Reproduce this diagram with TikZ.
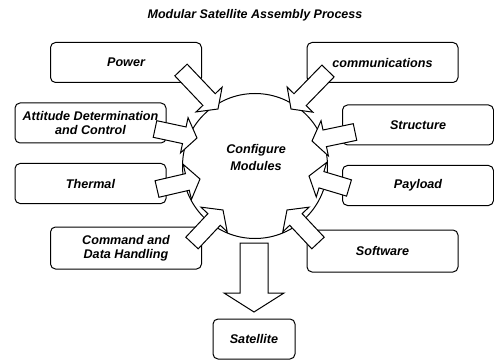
\documentclass[tikz,border=0pt]{standalone}
\usepackage{fontspec}
\setmainfont{Liberation Sans}
\usetikzlibrary{calc}

\tikzset{
  modbox/.style={draw,line width=1pt,rounded corners=5pt,minimum width=151pt,
    minimum height=40pt,align=center,font=\fontsize{12.6}{14.5}\selectfont\bfseries\itshape},
  blockarrow/.style n args={3}{draw,fill=white,line width=1pt,line join=miter,
    to path={let \p1=($(\tikztotarget)-(\tikztostart)$),
      \n1={atan2(\y1,\x1)}, \n2={veclen(\x1,\y1)} in
      ($(\tikztostart)+(\n1+90:#1)$)
      -- ($(\tikztostart)+(\n1:{\n2-#3})+(\n1+90:#1)$)
      -- ($(\tikztostart)+(\n1:{\n2-#3})+(\n1+90:#2)$)
      -- (\tikztotarget)
      -- ($(\tikztostart)+(\n1:{\n2-#3})+(\n1-90:#2)$)
      -- ($(\tikztostart)+(\n1:{\n2-#3})+(\n1-90:#1)$)
      -- ($(\tikztostart)+(\n1-90:#1)$) -- cycle}},
  sidearrow/.style={blockarrow={8.5pt}{18pt}{13pt}},
}

\begin{document}
\begin{tikzpicture}[x=1pt,y=-1pt]
  \useasboundingbox (0,0) rectangle (494,363);

  \node[font=\fontsize{12.5}{14}\selectfont\bfseries\itshape] (title) at (255,15)
    {Modular Satellite Assembly Process};

  % hub
  \node[draw,circle,line width=1pt,minimum size=145pt] (cfg) at (255,166) {};
  \node[align=center,font=\fontsize{12.6}{17}\selectfont\bfseries\itshape] (cfgtxt)
    at (256,157) {Configure\\Modules};

  % modules
  \node[modbox] (pow) at (126,62.5) {Power};
  \node[modbox] (com) at (382.5,62.5) {communications};
  \node[modbox] (att) at (90.5,123) {Attitude Determination\\and Control};
  \node[modbox] (thm) at (90.5,183.5) {Thermal};
  \node[modbox] (str) at (418,125) {Structure};
  \node[modbox] (pay) at (418,185.5) {Payload};
  \node[modbox,minimum height=42pt] (cmd) at (126,248) {Command and\\Data Handling};
  \node[modbox,minimum height=42pt] (sw) at (382.5,251) {Software};
  \node[modbox,minimum width=82pt] (sat) at (254,339) {Satellite};

  % arrow ends
  \coordinate (pow-t) at (181,70);   \coordinate (pow-h) at (218,109);
  \coordinate (com-t) at (328,71);   \coordinate (com-h) at (291,109);
  \coordinate (att-t) at (155,129);  \coordinate (att-h) at (197,138);
  \coordinate (thm-t) at (157,189);  \coordinate (thm-h) at (200,179);
  \coordinate (str-t) at (355,132);  \coordinate (str-h) at (312,141);
  \coordinate (pay-t) at (349,188);  \coordinate (pay-h) at (309,176);
  \coordinate (cmd-t) at (192,243);  \coordinate (cmd-h) at (223,210);
  \coordinate (sw-t) at (318,243);   \coordinate (sw-h) at (287,210);
  \coordinate (cfg-o) at (254,243);  \coordinate (sat-i) at (254,312);

  \draw[sidearrow] (pow-t) to (pow-h);
  \draw[sidearrow] (com-t) to (com-h);
  \draw[sidearrow] (att-t) to (att-h);
  \draw[sidearrow] (thm-t) to (thm-h);
  \draw[sidearrow] (str-t) to (str-h);
  \draw[sidearrow] (pay-t) to (pay-h);
  \draw[sidearrow] (cmd-t) to (cmd-h);
  \draw[sidearrow] (sw-t) to (sw-h);
  \draw[blockarrow={14pt}{30pt}{19pt}] (cfg-o) to (sat-i);
\end{tikzpicture}
\end{document}
